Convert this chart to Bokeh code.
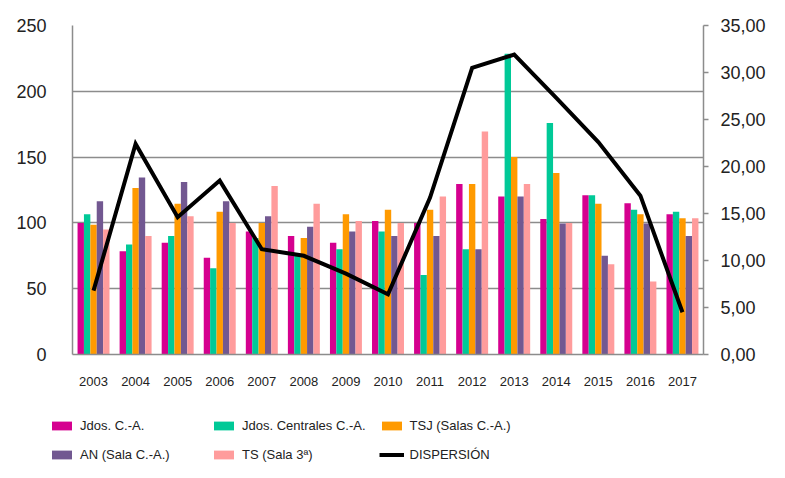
from bokeh.plotting import figure
from bokeh.layouts import column
from bokeh.models import (ColumnDataSource, Range1d, LinearAxis, FactorRange,
                          SingleIntervalTicker, CustomJSTickFormatter, Legend, LegendItem)
from bokeh.transform import dodge
from bokeh.embed import file_html
from bokeh.resources import INLINE

years = ["2003", "2004", "2005", "2006", "2007", "2008", "2009", "2010",
         "2011", "2012", "2013", "2014", "2015", "2016", "2017"]
jdos_ca = [100, 78.5, 85, 73.5, 93.5, 90, 85, 101.5, 100, 129.5, 120, 103, 121, 115, 106.5]
jdos_centrales = [106.5, 83.5, 90, 65.5, 88.5, 76, 80, 93.5, 60.5, 80, 228.5, 176, 121, 110, 108.5]
tsj = [98.5, 126.5, 114.5, 108.5, 100, 88.5, 106.5, 110, 110, 129.5, 150, 138, 114.5, 106.5, 103.5]
an = [116.5, 134.5, 131, 116.5, 105, 97, 93.5, 90, 90, 80, 120, 99.5, 75, 99.5, 90]
ts = [95, 90, 105, 100, 128, 114.5, 101.5, 100, 120, 169.5, 129.5, 100, 68.5, 55.5, 103.5]
dispersion = [6.8, 22.4, 14.6, 18.5, 11.2, 10.5, 8.6, 6.4, 16.7, 30.5, 31.9, 27.3, 22.6, 16.9, 4.5]

series_names = ["Jdos. C.-A.", "Jdos. Centrales C.-A.", "TSJ (Salas C.-A.)",
                "AN (Sala C.-A.)", "TS (Sala 3ª)", "DISPERSIÓN"]
colors = ["#D5008F", "#00C997", "#FF9A00", "#725891", "#FF9C9C"]

src = ColumnDataSource(dict(year=years, a=jdos_ca, b=jdos_centrales, c=tsj,
                            d=an, e=ts, disp=dispersion))

FONT = "Liberation Sans"
TXT = "#222222"
GRID = "#8C8C8C"

p = figure(width=769, height=392, x_range=FactorRange(*years), y_range=Range1d(0, 250),
           output_backend="svg", toolbar_location=None,
           min_border_left=72, min_border_right=66, min_border_top=25, min_border_bottom=38)
p.outline_line_color = None
p.extra_y_ranges = {"disp": Range1d(0, 35)}

bw = 0.152
offsets = [-2 * bw, -bw, 0, bw, 2 * bw]
cols = ["a", "b", "c", "d", "e"]
for col, off, colr in zip(cols, offsets, colors):
    p.vbar(x=dodge("year", off, range=p.x_range), top=col, width=bw, bottom=0,
           source=src, fill_color=colr, line_color=None)

p.line(x="year", y="disp", source=src, y_range_name="disp",
       line_color="black", line_width=4, line_join="miter")

# left axis
ya = p.yaxis[0]
ya.ticker = SingleIntervalTicker(interval=50)
ya.axis_line_color = GRID
ya.axis_line_width = 1.5
ya.major_tick_line_color = None
ya.minor_tick_line_color = None
ya.major_label_text_font = FONT
ya.major_label_text_font_size = "18px"
ya.major_label_text_color = TXT
ya.major_label_standoff = 20

# right axis
ra = LinearAxis(y_range_name="disp", ticker=SingleIntervalTicker(interval=5),
                formatter=CustomJSTickFormatter(code="return tick.toFixed(2).replace('.', ',');"))
ra.axis_line_color = GRID
ra.axis_line_width = 1.5
ra.major_tick_line_color = GRID
ra.major_tick_line_width = 1.5
ra.major_tick_in = 0
ra.major_tick_out = 5
ra.minor_tick_line_color = None
ra.major_label_text_font = FONT
ra.major_label_text_font_size = "18px"
ra.major_label_text_color = TXT
ra.major_label_standoff = 12
p.add_layout(ra, "right")

# x axis
xa = p.xaxis[0]
xa.axis_line_color = GRID
xa.axis_line_width = 1.5
xa.major_tick_line_color = None
xa.minor_tick_line_color = None
xa.major_label_text_font = FONT
xa.major_label_text_font_size = "13px"
xa.major_label_text_color = TXT
xa.major_label_standoff = 16

p.xgrid.grid_line_color = None
p.ygrid.grid_line_color = GRID
p.ygrid.grid_line_width = 1.5

# legend panel: a separate figure below the chart; its series glyphs lie outside
# its visible y-range, so only the legend shows
lf = figure(width=769, height=70, x_range=FactorRange(*years), y_range=Range1d(1000, 1070),
            output_backend="svg", toolbar_location=None,
            x_axis_type=None, y_axis_type=None, min_border=0)
lf.frame_align = False
lf.outline_line_color = None
lf.grid.grid_line_color = None
leg_renderers = []
for col, colr in zip(cols, colors):
    leg_renderers.append(lf.vbar(x="year", top=col, width=bw, source=src,
                                 fill_color=colr, line_color=None))
leg_renderers.append(lf.line(x="year", y="disp", source=src, line_color="black", line_width=4))

items = [LegendItem(label=n, renderers=[r]) for n, r in zip(series_names, leg_renderers)]
leg = Legend(items=items, ncols=3, location=(49, 0), orientation="horizontal")
leg.border_line_color = None
leg.background_fill_alpha = 0
leg.padding = 0
leg.margin = 0
leg.spacing = 13
leg.glyph_width = 25
leg.glyph_height = 11
leg.label_standoff = 6
leg.label_width = 118
leg.label_height = 16
leg.label_text_font = FONT
leg.label_text_font_size = "13px"
leg.label_text_color = TXT
lf.add_layout(leg, "center")

layout = column(p, lf, spacing=0)
open("out.html", "w").write(file_html(layout, INLINE))
